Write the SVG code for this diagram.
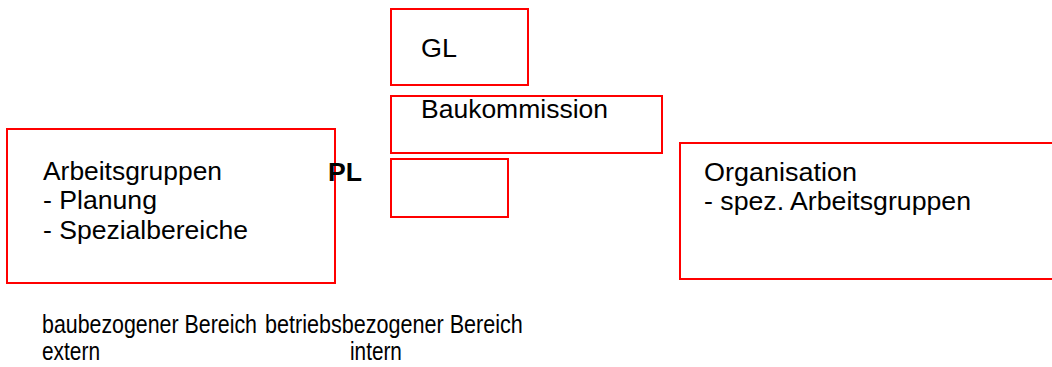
<svg xmlns="http://www.w3.org/2000/svg" width="1052" height="367" viewBox="0 0 1052 367">
  <style>
    .box { fill: #ffffff; stroke: #ff0000; stroke-width: 2; }
    .t { font-family: "Liberation Sans", Arial, sans-serif; font-size: 25px; fill: #000000; }
    .s { font-size: 25.3px; }
    .b { font-weight: bold; }
  </style>
  <rect x="0" y="0" width="1052" height="367" fill="#ffffff"/>

  <g id="node-gl">
    <rect class="box" x="391" y="9" width="137" height="76"/>
    <text class="t" x="421" y="57" textLength="36" lengthAdjust="spacingAndGlyphs">GL</text>
  </g>

  <g id="node-baukommission">
    <rect class="box" x="391" y="96" width="271" height="57"/>
    <text class="t" x="421" y="118" textLength="187" lengthAdjust="spacingAndGlyphs">Baukommission</text>
  </g>

  <g id="node-pl">
    <rect class="box" x="391" y="159" width="117" height="58"/>
  </g>

  <g id="node-arbeitsgruppen">
    <rect class="box" x="7" y="129" width="328" height="154"/>
    <text class="t" x="43" y="180" textLength="179" lengthAdjust="spacingAndGlyphs">Arbeitsgruppen</text>
    <text class="t" x="43" y="209" textLength="114" lengthAdjust="spacingAndGlyphs">- Planung</text>
    <text class="t" x="43" y="239" textLength="205" lengthAdjust="spacingAndGlyphs">- Spezialbereiche</text>
  </g>

  <text class="t b" x="328" y="181" textLength="34" lengthAdjust="spacingAndGlyphs">PL</text>

  <g id="node-organisation">
    <rect class="box" x="680" y="143" width="400" height="136"/>
    <text class="t" x="704" y="181" textLength="153" lengthAdjust="spacingAndGlyphs">Organisation</text>
    <text class="t" x="704" y="210" textLength="267" lengthAdjust="spacingAndGlyphs">- spez. Arbeitsgruppen</text>
  </g>

  <g id="connectors"></g>

  <!-- footer captions, set in a horizontally condensed face -->
  <g id="labels">
    <text class="t s" transform="translate(42 333) scale(0.845 1)">baubezogener Bereich</text>
    <text class="t s" transform="translate(265 333) scale(0.853 1)">betriebsbezogener Bereich</text>
    <text class="t s" transform="translate(42 360) scale(0.825 1)">extern</text>
    <text class="t s" transform="translate(350 360) scale(0.82 1)">intern</text>
  </g>
</svg>
